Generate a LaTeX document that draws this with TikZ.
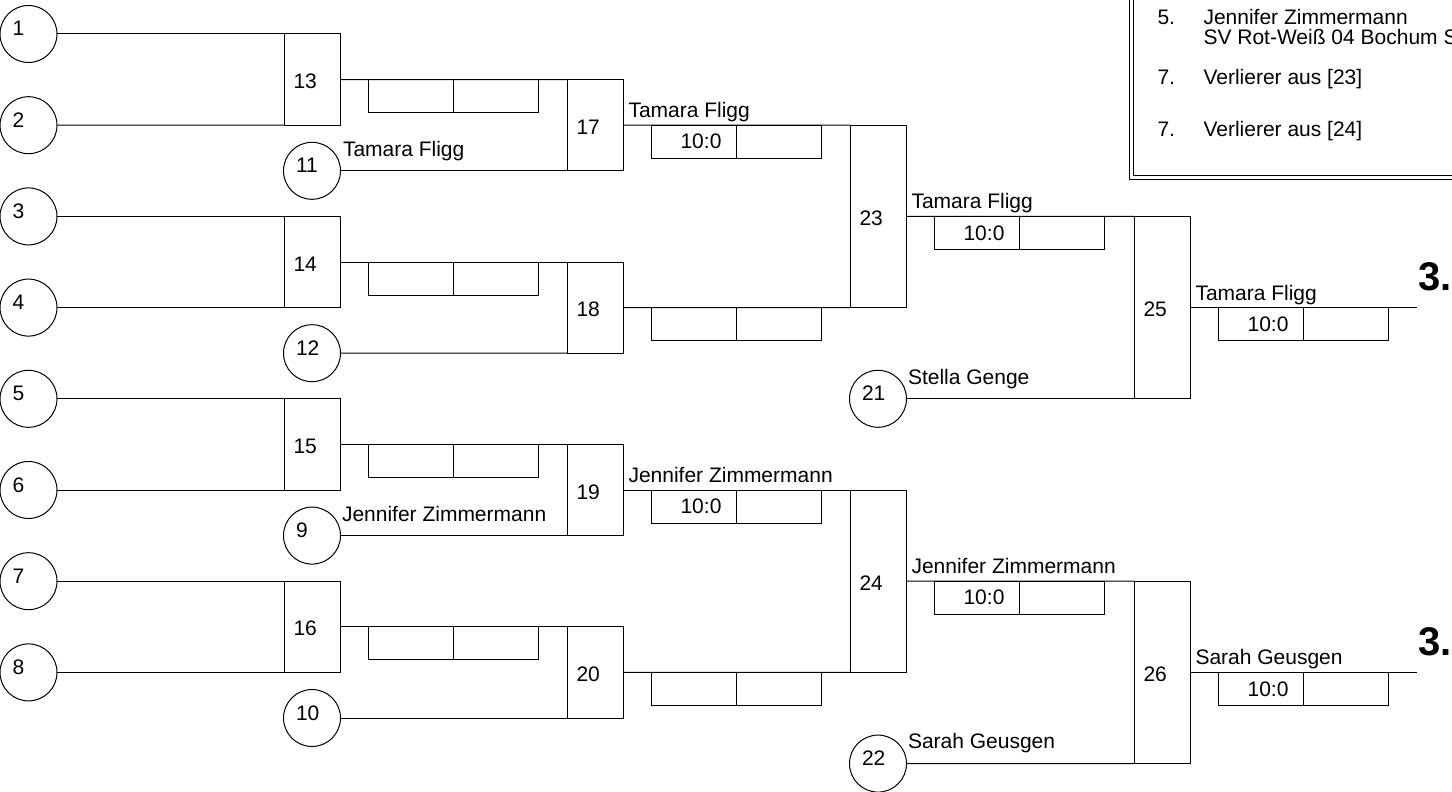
\documentclass[tikz,border=0pt]{standalone}
\usepackage{fontspec}
\setmainfont{Liberation Sans}
\usetikzlibrary{positioning, calc}

\begin{document}
\begin{tikzpicture}[
    x=0.5pt, y=-0.5pt, line width=0.5pt,
    player/.style={
        circle, draw, minimum size=28.5pt,
        inner sep=0pt, outer sep=0pt
    },
    match/.style={
        rectangle, draw, minimum width=28pt, minimum height=45.6pt,
        inner sep=0pt, outer sep=0pt
    },
    %% later rounds span twice the height
    bigmatch/.style={match, minimum height=91.2pt},
    cell/.style={
        rectangle, draw, minimum width=42.5pt, minimum height=16.5pt,
        inner sep=0pt, outer sep=0pt, anchor=north west,
        font=\fontsize{10.5}{12}\selectfont
    },
    %% score sits a little right of the middle
    result/.style={cell, execute at begin node={\hspace*{7pt}}},
    pnum/.style={anchor=base west, xshift=6pt, yshift=-1pt, inner sep=0pt,
        font=\fontsize{10.5}{12}\selectfont},
    mnum/.style={anchor=base west, xshift=4.5pt, yshift=-4.5pt, inner sep=0pt,
        font=\fontsize{10.5}{12}\selectfont},
    who/.style={anchor=base west, inner sep=0pt,
        font=\fontsize{10.5}{12}\selectfont},
    rank/.style={anchor=base west, inner sep=0pt,
        font=\fontsize{20}{24}\selectfont\bfseries}
]
\clip (0,0) rectangle (1452,792);

%% ── Starting places ──────────────────────────────────────────────────────────
\node[player, label={[pnum]west:1}]  (c1)  at (28.5,  34.0) {};
\node[player, label={[pnum]west:2}]  (c2)  at (28.5, 125.2) {};
\node[player, label={[pnum]west:3}]  (c3)  at (28.5, 216.4) {};
\node[player, label={[pnum]west:4}]  (c4)  at (28.5, 307.6) {};
\node[player, label={[pnum]west:5}]  (c5)  at (28.5, 398.8) {};
\node[player, label={[pnum]west:6}]  (c6)  at (28.5, 490.0) {};
\node[player, label={[pnum]west:7}]  (c7)  at (28.5, 581.2) {};
\node[player, label={[pnum]west:8}]  (c8)  at (28.5, 672.4) {};
\node[player, label={[pnum]west:11}] (c11) at (312, 170.8) {};
\node[player, label={[pnum]west:12}] (c12) at (312, 353.2) {};
\node[player, label={[pnum]west:9}]  (c9)  at (312, 535.6) {};
\node[player, label={[pnum]west:10}] (c10) at (312, 718.0) {};
\node[player, label={[pnum]west:21}] (c21) at (878, 398.8) {};
\node[player, label={[pnum]west:22}] (c22) at (878, 763.6) {};

%% ── Matches ──────────────────────────────────────────────────────────────────
\node[match, label={[mnum]west:13}] (m13) at (312,  79.6) {};
\node[match, label={[mnum]west:14}] (m14) at (312, 262.0) {};
\node[match, label={[mnum]west:15}] (m15) at (312, 444.4) {};
\node[match, label={[mnum]west:16}] (m16) at (312, 626.8) {};
\node[match, label={[mnum]west:17}] (m17) at (595, 125.2) {};
\node[match, label={[mnum]west:18}] (m18) at (595, 307.6) {};
\node[match, label={[mnum]west:19}] (m19) at (595, 490.0) {};
\node[match, label={[mnum]west:20}] (m20) at (595, 672.4) {};
\node[bigmatch, label={[mnum]west:23}] (m23) at (878,  216.4) {};
\node[bigmatch, label={[mnum]west:24}] (m24) at (878,  581.2) {};
\node[bigmatch, label={[mnum]west:25}] (m25) at (1162, 307.6) {};
\node[bigmatch, label={[mnum]west:26}] (m26) at (1162, 672.4) {};

\coordinate (end25) at (1417, 307.6);
\coordinate (end26) at (1417, 672.4);

%% ── Score cells ──────────────────────────────────────────────────────────────
\foreach \m in {13,14,15,16,18,20} {
    \node[cell] (s\m-a) at ($(m\m.east)+(28.5,0)$) {};
    \node[cell, right=0pt of s\m-a] (s\m-b) {};
}
\foreach \m in {17,19,23,24,25,26} {
    \node[result] (s\m-a) at ($(m\m.east)+(28.5,0)$) {10:0};
    \node[cell, right=0pt of s\m-a] (s\m-b) {};
}

%% ── Lines ────────────────────────────────────────────────────────────────────
\draw (c1.east)  -- (m13.north west);
\draw (c2.east)  -- (m13.south west);
\draw (c3.east)  -- (m14.north west);
\draw (c4.east)  -- (m14.south west);
\draw (c5.east)  -- (m15.north west);
\draw (c6.east)  -- (m15.south west);
\draw (c7.east)  -- (m16.north west);
\draw (c8.east)  -- (m16.south west);

\draw (m13.east) -- (m17.north west);
\draw (c11.east) -- (m17.south west);
\draw (m14.east) -- (m18.north west);
\draw (c12.east) -- (m18.south west);
\draw (m15.east) -- (m19.north west);
\draw (c9.east)  -- (m19.south west);
\draw (m16.east) -- (m20.north west);
\draw (c10.east) -- (m20.south west);

\draw (m17.east) -- (m23.north west);
\draw (m18.east) -- (m23.south west);
\draw (m19.east) -- (m24.north west);
\draw (m20.east) -- (m24.south west);

\draw (m23.east) -- (m25.north west);
\draw (c21.east) -- (m25.south west);
\draw (m24.east) -- (m26.north west);
\draw (c22.east) -- (m26.south west);

\draw (m25.east) -- (end25);
\draw (m26.east) -- (end26);

%% ── Names ────────────────────────────────────────────────────────────────────
\node[who] (n11) at ($(c11.east)+(2,-14)$) {Tamara Fligg};
\node[who] (n9)  at ($(c9.east)+(1,-14)$)  {Jennifer Zimmermann};
\node[who] (n21) at ($(c21.east)+(1,-14)$) {Stella Genge};
\node[who] (n22) at ($(c22.east)+(1,-15)$) {Sarah Geusgen};
\node[who] (w17) at ($(m17.east)+(5,-7.5)$)  {Tamara Fligg};
\node[who] (w19) at ($(m19.east)+(5,-7.5)$)  {Jennifer Zimmermann};
\node[who] (w23) at ($(m23.east)+(5,-7.5)$)  {Tamara Fligg};
\node[who] (w24) at ($(m24.east)+(5,-7.5)$)  {Jennifer Zimmermann};
\node[who] (w25) at ($(m25.east)+(5,-7.5)$)  {Tamara Fligg};
\node[who] (w26) at ($(m26.east)+(5,-7.5)$)  {Sarah Geusgen};

\node[rank] (r25) at ($(end25)+(1,-17)$) {3.};
\node[rank] (r26) at ($(end26)+(1,-17)$) {3.};

%% ── Ranking panel ────────────────────────────────────────────────────────────
\draw[line width=0.7pt] (1129.5,-10) rectangle (1470,179.5);
\draw[line width=0.7pt] (1133.5,-10) rectangle (1470,175.5);
\node[who] (p5)   at (1157, 25)  {5.};
\node[who] (p5n)  at (1203, 25)  {Jennifer Zimmermann};
\node[who] (p5c)  at (1203, 45)  {SV Rot-Weiß 04 Bochum S};
\node[who] (p7a)  at (1157, 85)  {7.};
\node[who] (p7an) at (1203, 85)  {Verlierer aus [23]};
\node[who] (p7b)  at (1157, 137) {7.};
\node[who] (p7bn) at (1203, 137) {Verlierer aus [24]};

\end{tikzpicture}
\end{document}
